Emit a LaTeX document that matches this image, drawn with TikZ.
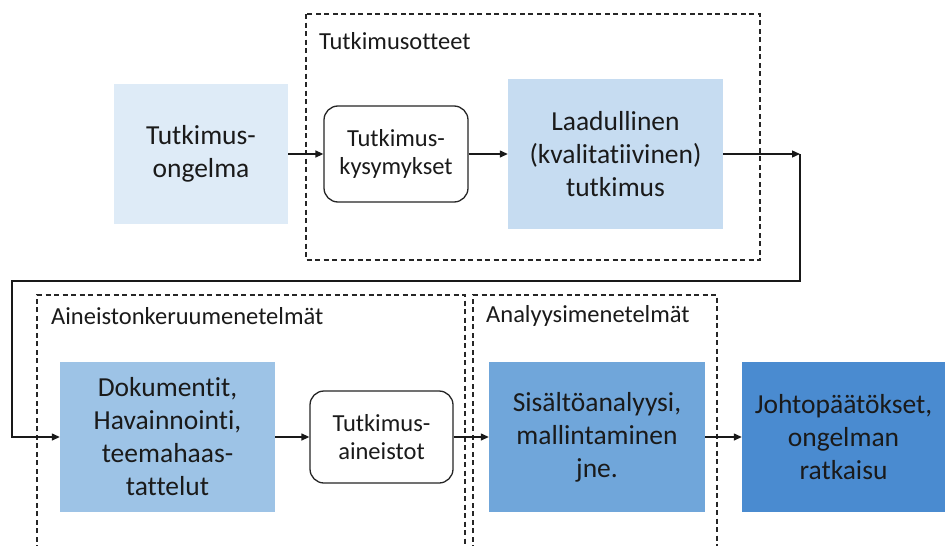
\documentclass[tikz,border=0pt]{standalone}
\usepackage{fontspec}
\setmainfont[Ligatures={NoCommon}]{Carlito}
\usetikzlibrary{arrows.meta}
\definecolor{cA}{HTML}{DEEBF7}
\definecolor{cB}{HTML}{C6DCF1}
\definecolor{cC}{HTML}{9DC3E6}
\definecolor{cD}{HTML}{70A6DA}
\definecolor{cE}{HTML}{4A8BD0}
\definecolor{txt}{HTML}{1A1A1A}
\tikzset{
  x=1pt, y=-1pt,
  fillbox/.style={draw=none, text=txt, align=center, inner sep=0pt,
    font=\fontsize{27.5}{33}\selectfont},
  roundbox/.style={draw=black!85, line width=1.3pt, rounded corners=14pt, fill=white,
    text=txt, align=center, inner sep=0pt, font=\fontsize{24.5}{28}\selectfont},
  group/.style={draw=black!85, line width=1.2pt, dash pattern=on 5pt off 3.5pt},
  grouplabel/.style={anchor=west, inner sep=0pt, text=txt, font=\fontsize{24.5}{28}\selectfont},
  arr/.style={line width=1.3pt, draw=black!90, -{Triangle[length=8pt,width=7pt]}},
}
\begin{document}
\begin{tikzpicture}
\useasboundingbox[fill=white] (0,0) rectangle (945,546);
% groups
\draw[group] (306,14) rectangle (760,260);
\node[grouplabel] (g1) at (319,41) {Tutkimusotteet};
\draw[group] (37,550) -- (37,295) -- (465,295) -- (465,550);
\node[grouplabel] (g2) at (51,316) {Aineistonkeruumenetelmät};
\draw[group] (473,550) -- (473,295) -- (717,295) -- (717,550);
\node[grouplabel] (g3) at (486,316) {Analyysimenetelmät};
% nodes
\node[fillbox, fill=cA, minimum width=174pt, minimum height=140pt] (ong) at (201,154) {Tutkimus-\\ongelma};
\node[roundbox, minimum width=144pt, minimum height=96pt] (kys) at (396,154) {Tutkimus-\\kysymykset};
\node[fillbox, fill=cB, minimum width=215pt, minimum height=150pt] (laad) at (615.5,154) {Laadullinen\\(kvalitatiivinen)\\tutkimus};
\node[fillbox, fill=cC, minimum width=215pt, minimum height=150pt] (dok) at (167.5,437) {Dokumentit,\\Havainnointi,\\teemahaas-\\tattelut};
\node[roundbox, minimum width=143pt, minimum height=92pt] (ain) at (381.5,437) {Tutkimus-\\aineistot};
\node[fillbox, fill=cD, minimum width=216pt, minimum height=150pt] (sis) at (597,437) {Sisältöanalyysi,\\mallintaminen\\jne.};
\node[fillbox, fill=cE, minimum width=203pt, minimum height=150pt] (joh) at (843.5,437) {Johtopäätökset,\\ongelman\\ratkaisu};
% connectors
\coordinate (c1) at (800,154);
\coordinate (c2) at (12,281);
\draw[arr] (ong) -- (kys);
\draw[arr] (kys) -- (laad);
\draw[arr] (laad.east) -- (c1);
\draw[arr] (c1) |- (c2) |- (dok.west);
\draw[arr] (dok) -- (ain);
\draw[arr] (ain) -- (sis);
\draw[arr] (sis) -- (joh);
\end{tikzpicture}
\end{document}
